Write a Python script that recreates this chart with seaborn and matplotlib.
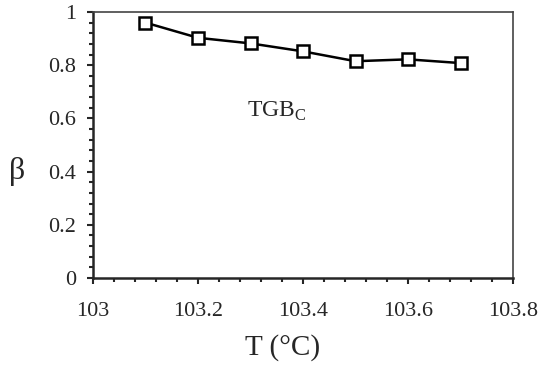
import numpy as np
import pandas as pd
import seaborn as sns
import matplotlib.pyplot as plt
from matplotlib.ticker import MultipleLocator, FuncFormatter

# data
temp = [103.1, 103.2, 103.3, 103.4, 103.5, 103.6, 103.7]
beta = [0.960, 0.903, 0.882, 0.852, 0.815, 0.822, 0.808]
df = pd.DataFrame({"T": temp, "beta": beta})

sns.set_style("ticks")
plt.rcParams['font.family'] = ['Liberation Serif', 'DejaVu Serif']
plt.rcParams['mathtext.fontset'] = 'custom'
plt.rcParams['mathtext.rm'] = 'Liberation Serif'

fig = plt.figure(figsize=(5.41, 3.72), dpi=100)
ax = fig.add_axes([93/541, 1-278/372, 420/541, 266/372])

sns.lineplot(data=df, x="T", y="beta", ax=ax, color="black", lw=1.8,
             marker="s", markersize=8, markerfacecolor="white",
             markeredgecolor="black", markeredgewidth=1.8)

ax.set_xlim(103, 103.8)
ax.set_ylim(0, 1)
ax.xaxis.set_major_locator(MultipleLocator(0.2))
ax.xaxis.set_minor_locator(MultipleLocator(0.04))
ax.yaxis.set_major_locator(MultipleLocator(0.2))
ax.yaxis.set_minor_locator(MultipleLocator(0.04))
fmt = FuncFormatter(lambda v, p: f"{v:.1f}".rstrip("0").rstrip("."))
ax.xaxis.set_major_formatter(fmt)
ax.yaxis.set_major_formatter(fmt)
ax.tick_params(which="major", length=4, width=1.5, labelsize=16, direction="out")
ax.tick_params(axis="x", which="major", pad=13)
ax.tick_params(axis="y", which="major", pad=8)
ax.tick_params(which="minor", length=3, width=1.5, direction="out")
for s in ["left", "bottom"]:
    ax.spines[s].set_linewidth(1.8)
for s in ["top", "right"]:
    ax.spines[s].set_linewidth(1.2)
    ax.spines[s].set_color("#444444")

ax.set_xlabel("T (°C)", fontsize=21)
ax.xaxis.set_label_coords(0.452, -0.263)
ax.xaxis.label.set_va("center")
ax.set_ylabel("β", fontsize=23, rotation=0)
ax.yaxis.set_label_coords(-0.181, 0.40)
ax.yaxis.label.set_va("center")
ax.text(103.293, 0.605, r"TGB$_\mathregular{C}$", fontsize=17, ha="left", va="baseline")

fig.savefig("out.png", dpi=100)
